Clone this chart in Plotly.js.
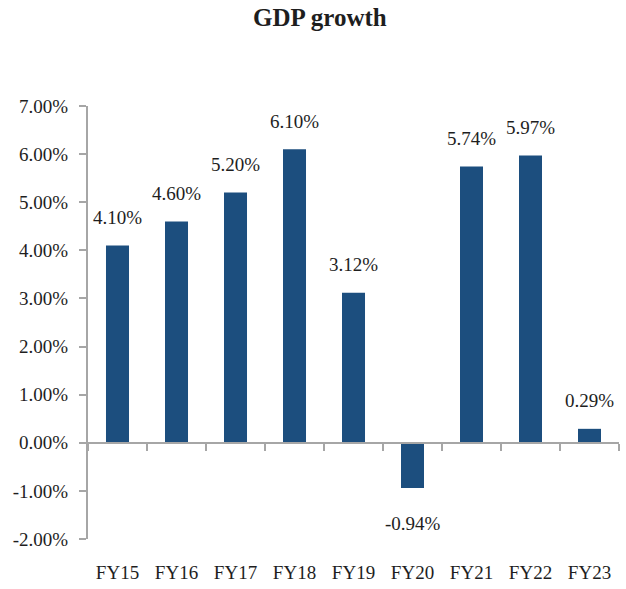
<!DOCTYPE html>
<html>
<head>
<meta charset="utf-8">
<script src="https://cdn.plot.ly/plotly-3.0.1.min.js"></script>
<style>
  body { margin: 0; background: #fff; }
  #chart { width: 626px; height: 589px; }
</style>
</head>
<body>
<div id="chart"></div>
<script>
// GDP growth by fiscal year, in percent
let years = ["FY15", "FY16", "FY17", "FY18", "FY19", "FY20", "FY21", "FY22", "FY23"];
let growth = [4.10, 4.60, 5.20, 6.10, 3.12, -0.94, 5.74, 5.97, 0.29];
let y_ticks = [-2, -1, 0, 1, 2, 3, 4, 5, 6, 7];

let serif = "Liberation Serif, Times New Roman, serif";
let axis_grey = "#a6a6a6";
let ink = "#1e1e1e";

function pct(v) {
    return v.toFixed(2) + "%";
}

function paintChart() {
    let trace_growth = {
        x: years,
        y: growth,
        type: "bar",
        marker: { color: "#1c4e7e" },
        hoverinfo: "x+y"
    };

    // value labels sit a fixed distance off the end of each bar
    let labels = years.map((yr, i) => ({
        x: yr,
        y: growth[i],
        text: pct(growth[i]),
        showarrow: false,
        yshift: growth[i] >= 0 ? 28 : -35,
        font: { family: serif, size: 19, color: ink }
    }));

    let layout = {
        width: 626,
        height: 589,
        margin: { l: 88, r: 7, t: 106, b: 50 },
        paper_bgcolor: "#fff",
        plot_bgcolor: "#fff",
        showlegend: false,
        bargap: 0.61,
        title: {
            text: "<b>GDP growth</b>",
            font: { family: serif, size: 25, color: ink },
            x: 0.511,
            xanchor: "center",
            y: 0.97,
            yanchor: "middle"
        },
        xaxis: {
            type: "category",
            anchor: "free",
            position: 2 / 9,
            showline: true,
            linecolor: axis_grey,
            linewidth: 2,
            ticks: "outside",
            tickson: "boundaries",
            ticklen: 7,
            tickwidth: 2,
            tickcolor: axis_grey,
            ticklabelstandoff: 112,
            showgrid: false,
            zeroline: false,
            tickfont: { family: serif, size: 19, color: ink }
        },
        yaxis: {
            range: [-2, 7],
            tickvals: y_ticks,
            ticktext: y_ticks.map(pct),
            showline: true,
            linecolor: axis_grey,
            linewidth: 2,
            ticks: "outside",
            ticklen: 7,
            tickwidth: 2,
            tickcolor: axis_grey,
            showgrid: false,
            zeroline: false,
            ticklabelstandoff: 7,
            tickfont: { family: serif, size: 19, color: ink }
        },
        annotations: labels
    };

    Plotly.newPlot("chart", [trace_growth], layout, { displayModeBar: false, staticPlot: true });
}

paintChart();
</script>
</body>
</html>
